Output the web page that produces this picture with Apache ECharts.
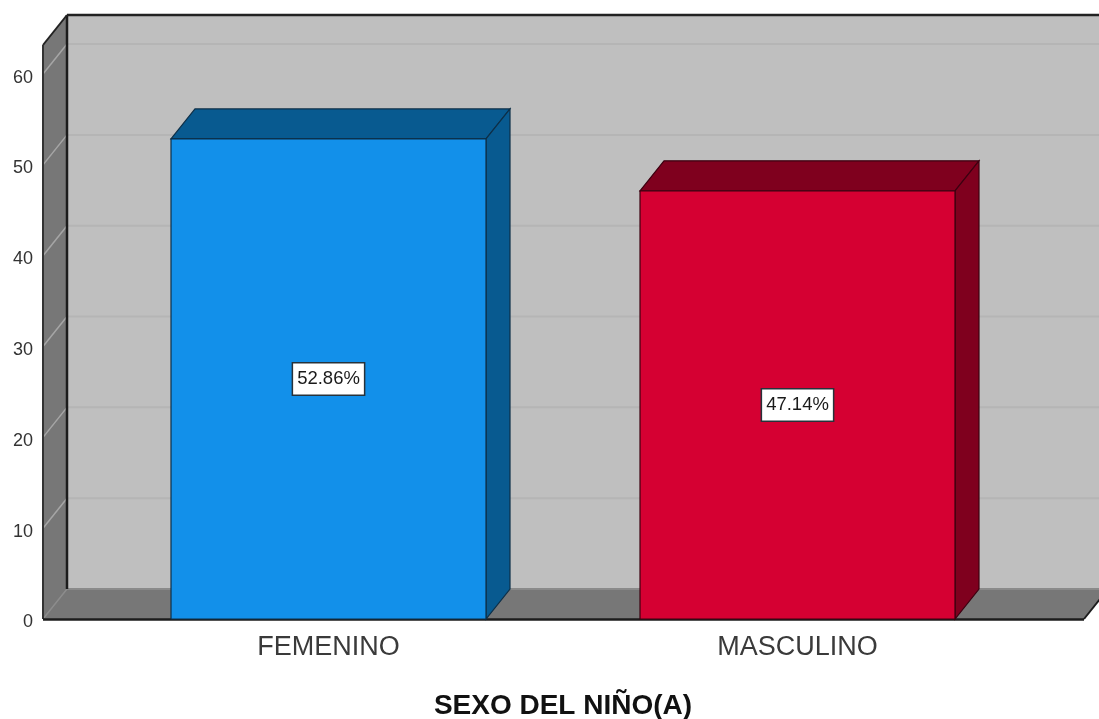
<!DOCTYPE html>
<html>
<head>
<meta charset="utf-8">
<style>html,body{margin:0;padding:0;background:#fff}#c{width:1099px;height:719px}</style>
<script src="https://cdn.jsdelivr.net/npm/echarts@6/dist/echarts.min.js"></script>
</head>
<body>
<div id="c"></div>
<script>
const categories = ['FEMENINO', 'MASCULINO'];
const percentValues = [52.86, 47.14];
const percentLabels = ['52.86%', '47.14%'];
const yTicks = [0, 10, 20, 30, 40, 50, 60];
const yMax = 63.2;
const faceColors = ['#1290ea', '#d50032'];
const shadeColors = ['#085a90', '#7f001e'];
const edgeColors = ['#0d2f48', '#3c0010'];

const depthX = 24, depthY = -30;
const padLeft = 51, padRight = 52;
const barRatio = 315 / 469;

function poly(points, fill, stroke, lineWidth) {
  return { type: 'polygon', shape: { points }, style: { fill, stroke: stroke || null, lineWidth: lineWidth || 0 } };
}
function line(x1, y1, x2, y2, color, w) {
  return { type: 'line', shape: { x1, y1, x2, y2 }, style: { stroke: color, lineWidth: w, fill: null } };
}

function renderWalls(params, api) {
  const band = api.size([1, 0])[0];
  const c0 = api.coord([0, 0]);
  const cTop = api.coord([0, yMax]);
  const xL = c0[0] - band / 2 - padLeft;
  const xR = c0[0] + band * 1.5 + padRight;
  const yB = c0[1], yT = cTop[1];
  const children = [
    poly([[xL + depthX, yT + depthY], [xR + depthX, yT + depthY], [xR + depthX, yB + depthY], [xL + depthX, yB + depthY]], '#bfbfbf'),
    poly([[xL, yT], [xL + depthX, yT + depthY], [xL + depthX, yB + depthY], [xL, yB]], '#777777'),
    poly([[xL, yB], [xL + depthX, yB + depthY], [xR + depthX, yB + depthY], [xR, yB]], '#777777')
  ];
  yTicks.forEach(function (t) {
    const y = api.coord([0, t])[1];
    if (t > 0) {
      children.push(line(xL + depthX, y + depthY, xR + depthX, y + depthY, '#b5b5b5', 2));
    }
    children.push(line(xL, y, xL + depthX, y + depthY, t > 0 ? '#a6a6a6' : '#8c8c8c', 1.5));
  });
  children.push(line(xL + depthX, yB + depthY, xR + depthX, yB + depthY, '#8a8a8a', 2));
  children.push(line(xL + depthX, yT + depthY, xL + depthX, yB + depthY, '#1c1c1c', 2.5));
  children.push(line(xL + depthX, yT + depthY, xR + depthX, yT + depthY, '#222222', 2.5));
  children.push(line(xL, yT, xL + depthX, yT + depthY, '#222222', 2));
  children.push(line(xL, yT, xL, yB, '#333333', 2));
  children.push(line(xL, yB + 0.5, xR, yB + 0.5, '#1c1c1c', 2.5));
  children.push(line(xR, yB, xR + depthX, yB + depthY, '#1c1c1c', 2));
  return { type: 'group', children };
}

function renderBar(params, api) {
  const i = params.dataIndex;
  const band = api.size([1, 0])[0];
  const top = api.coord([i, api.value(1)]);
  const base = api.coord([i, 0]);
  const w = band * barRatio;
  const xl = top[0] - w / 2, xr = top[0] + w / 2, yt = top[1], yb = base[1];
  const edge = edgeColors[i];
  return {
    type: 'group',
    children: [
      poly([[xl, yt], [xl + depthX, yt + depthY], [xr + depthX, yt + depthY], [xr, yt]], shadeColors[i], edge, 1.2),
      poly([[xr, yt], [xr + depthX, yt + depthY], [xr + depthX, yb + depthY], [xr, yb]], shadeColors[i], edge, 1.2),
      poly([[xl, yt], [xr, yt], [xr, yb], [xl, yb]], faceColors[i], edge, 1.2),
      {
        type: 'text',
        style: {
          x: top[0], y: (yt + yb) / 2,
          text: percentLabels[i],
          align: 'center', verticalAlign: 'middle',
          fontFamily: 'Liberation Sans', fontSize: 18.5, fill: '#1a1a1a',
          backgroundColor: '#ffffff', borderColor: '#27323a', borderWidth: 1.5,
          padding: [7, 4, 5, 4]
        }
      }
    ]
  };
}

const chart = echarts.init(document.getElementById('c'), null, { renderer: 'canvas' });
chart.setOption({
  animation: false,
  backgroundColor: '#ffffff',
  grid: { left: 94, top: 45, width: 938, height: 574, containLabel: false, outerBoundsMode: 'none' },
  xAxis: {
    type: 'category',
    data: categories,
    axisLine: { show: false },
    axisTick: { show: false },
    axisLabel: { margin: 15, fontFamily: 'Liberation Sans', fontSize: 27, color: '#3a3a3a' },
    name: 'SEXO DEL NIÑO(A)',
    nameLocation: 'middle',
    nameGap: 73,
    nameTextStyle: { fontFamily: 'Liberation Sans', fontSize: 28, fontWeight: 'bold', color: '#111111' }
  },
  yAxis: {
    type: 'value',
    min: 0,
    max: yMax,
    interval: 10,
    axisLine: { show: false },
    axisTick: { show: false },
    splitLine: { show: false },
    axisLabel: {
      margin: 61, fontFamily: 'Liberation Sans', fontSize: 18, color: '#333333',
      verticalAlign: 'top', lineHeight: 7, showMaxLabel: false
    }
  },
  series: [
    { type: 'custom', z: 1, silent: true, clip: false, renderItem: renderWalls, data: [[0, 0]] },
    {
      type: 'custom', z: 2, silent: true, clip: false, renderItem: renderBar,
      encode: { x: 0, y: 1 },
      data: categories.map(function (c, i) { return [i, percentValues[i]]; })
    }
  ]
});
</script>
</body>
</html>
